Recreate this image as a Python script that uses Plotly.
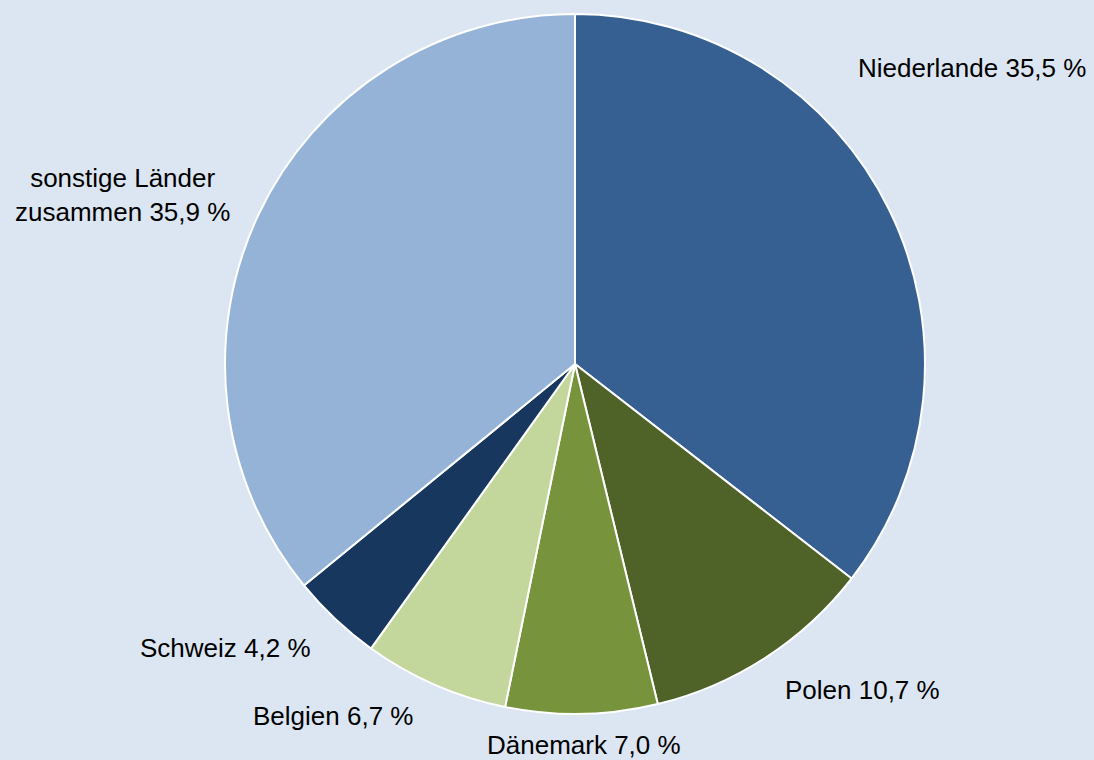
import plotly.graph_objects as go

labels = ["Niederlande", "Polen", "Dänemark", "Belgien", "Schweiz", "sonstige Länder<br>zusammen"]
values = [35.5, 10.7, 7.0, 6.7, 4.2, 35.9]
colors = ["#376092", "#4F6228", "#77933C", "#C3D69B", "#17375E", "#95B3D7"]

# label anchor positions in pixels (center x, center y)
label_pos = [(972, 68), (862, 690), (584, 745), (333, 716), (225, 648), (122, 195)]

W, H = 1094, 760
cx, cy, r = 575, 364, 350

fig = go.Figure(go.Pie(
    labels=labels,
    values=values,
    marker=dict(colors=colors, line=dict(color="white", width=2)),
    sort=False,
    direction="clockwise",
    rotation=0,
    textinfo="none",
    hoverinfo="label+percent",
    showlegend=False,
    domain=dict(x=[(cx - r) / W, (cx + r) / W], y=[1 - (cy + r) / H, 1 - (cy - r) / H]),
))

for lab, val, (px, py) in zip(labels, values, label_pos):
    txt = f"{lab} {val:.1f} %".replace(".", ",")
    fig.add_annotation(
        x=px / W, y=1 - py / H, xref="paper", yref="paper",
        text=txt, showarrow=False, align="center",
        xanchor="center", yanchor="middle",
        font=dict(family="Liberation Sans, Arial, sans-serif", size=26, color="#000000"),
    )

fig.update_layout(
    width=W, height=H,
    margin=dict(l=0, r=0, t=0, b=0),
    paper_bgcolor="#DCE6F2",
    plot_bgcolor="#DCE6F2",
)

fig.write_html(
    "out.html",
    config={"displayModeBar": False},
    post_script="document.body.style.margin='0';document.body.style.background='#DCE6F2';",
)
